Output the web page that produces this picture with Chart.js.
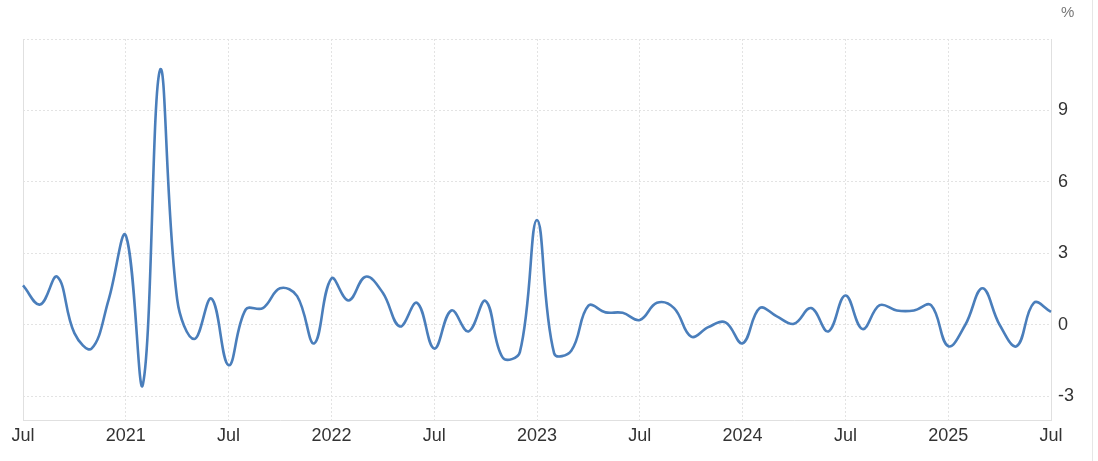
<!DOCTYPE html>
<html>
<head>
<meta charset="utf-8">
<script src="https://cdn.jsdelivr.net/npm/chart.js@4/dist/chart.umd.min.js"></script>
<style>
  html, body { margin: 0; padding: 0; background: #fff; }
  #wrap { position: relative; width: 1098px; height: 461px; }
  #edge { position: absolute; left: 1092px; top: 0; width: 1px; height: 461px; background: #e6e6e6; }
  #unit { position: absolute; left: 1061px; top: 3px; font: 15px "Liberation Sans", Arial, sans-serif; color: #777; }
</style>
</head>
<body>
<div id="wrap">
  <canvas id="linechart" width="1098" height="461"></canvas>
  <div id="unit">%</div>
  <div id="edge"></div>
</div>
<script>
const months = [
  'Jul 2020', 'Aug 2020', 'Sep 2020', 'Oct 2020', 'Nov 2020', 'Dec 2020',
  'Jan 2021', 'Feb 2021', 'Mar 2021', 'Apr 2021', 'May 2021', 'Jun 2021',
  'Jul 2021', 'Aug 2021', 'Sep 2021', 'Oct 2021', 'Nov 2021', 'Dec 2021',
  'Jan 2022', 'Feb 2022', 'Mar 2022', 'Apr 2022', 'May 2022', 'Jun 2022',
  'Jul 2022', 'Aug 2022', 'Sep 2022', 'Oct 2022', 'Nov 2022', 'Dec 2022',
  'Jan 2023', 'Feb 2023', 'Mar 2023', 'Apr 2023', 'May 2023', 'Jun 2023',
  'Jul 2023', 'Aug 2023', 'Sep 2023', 'Oct 2023', 'Nov 2023', 'Dec 2023',
  'Jan 2024', 'Feb 2024', 'Mar 2024', 'Apr 2024', 'May 2024', 'Jun 2024',
  'Jul 2024', 'Aug 2024', 'Sep 2024', 'Oct 2024', 'Nov 2024', 'Dec 2024',
  'Jan 2025', 'Feb 2025', 'Mar 2025', 'Apr 2025', 'May 2025', 'Jun 2025',
  'Jul 2025'
];
const values = [
  1.65, 0.85, 2.02, -0.35, -1.0, 1.06,
  3.75, -2.5, 10.7, 1.06, -0.6, 1.1,
  -1.7, 0.64, 0.7, 1.53, 1.2, -0.78,
  1.94, 1.02, 2.02, 1.34, -0.07, 0.92,
  -1.0, 0.6, -0.28, 1.0, -1.38, -1.15,
  4.4, -1.2, -1.09, 0.8, 0.52, 0.5,
  0.2, 0.92, 0.7, -0.5, -0.1, 0.1,
  -0.78, 0.7, 0.35, 0.04, 0.7, -0.28,
  1.23, -0.18, 0.82, 0.6, 0.6, 0.82,
  -0.9, 0.0, 1.53, 0.0, -0.9, 0.92,
  0.54
];
const yTicks = [-3, 0, 3, 6, 9, 12];
const yMin = -4;
const yMax = 12;

const gridColor = '#e3e3e3';
const frameColor = '#e0e0e0';

// label Jan with the year, Jul with "Jul", nothing else
function monthTick(i) {
  const [m, y] = months[i].split(' ');
  if (m === 'Jan') return y;
  if (m === 'Jul') return 'Jul';
  return '';
}

// left frame line of the plot box
const leftFrame = {
  id: 'leftFrame',
  beforeDatasetsDraw(chart) {
    const { ctx, chartArea } = chart;
    ctx.save();
    ctx.strokeStyle = frameColor;
    ctx.lineWidth = 1;
    ctx.beginPath();
    ctx.moveTo(chartArea.left + 0.5, chartArea.top);
    ctx.lineTo(chartArea.left + 0.5, chartArea.bottom);
    ctx.stroke();
    ctx.restore();
  }
};

Chart.defaults.font.family = '"Liberation Sans", Arial, sans-serif';

const ctx = document.getElementById('linechart').getContext('2d');
const linechart = new Chart(ctx, {
  type: 'line',
  data: {
    labels: months,
    datasets: [{
      data: values,
      borderColor: '#4a7ebb',
      borderWidth: 2.6,
      pointRadius: 0,
      tension: 0.4,
      fill: false
    }]
  },
  options: {
    responsive: false,
    animation: false,
    layout: { padding: { left: 23, top: 39, right: 0, bottom: 0 } },
    plugins: {
      legend: { display: false },
      tooltip: { enabled: false }
    },
    scales: {
      x: {
        offset: false,
        afterFit(axis) { axis.height = 41; },
        grid: {
          drawTicks: false,
          color: c => (c.tick && monthTick(c.index) !== '' && c.index !== 0) ? gridColor : 'rgba(0,0,0,0)',
          lineWidth: 1
        },
        border: { display: true, color: frameColor, dash: [2, 2] },
        ticks: {
          autoSkip: false,
          maxRotation: 0,
          padding: 5,
          color: '#333',
          font: { size: 18 },
          callback: (v, i) => monthTick(i)
        }
      },
      y: {
        position: 'right',
        min: yMin,
        max: yMax,
        afterFit(axis) { axis.width = 47; },
        afterBuildTicks(axis) { axis.ticks = yTicks.map(v => ({ value: v })); },
        grid: {
          drawTicks: false,
          color: gridColor,
          lineWidth: 1
        },
        border: { display: true, color: frameColor, dash: [2, 2] },
        ticks: {
          padding: 7,
          color: '#333',
          font: { size: 18 },
          callback: v => (v === 12 ? '' : String(v))
        }
      }
    }
  },
  plugins: [leftFrame]
});
</script>
</body>
</html>
